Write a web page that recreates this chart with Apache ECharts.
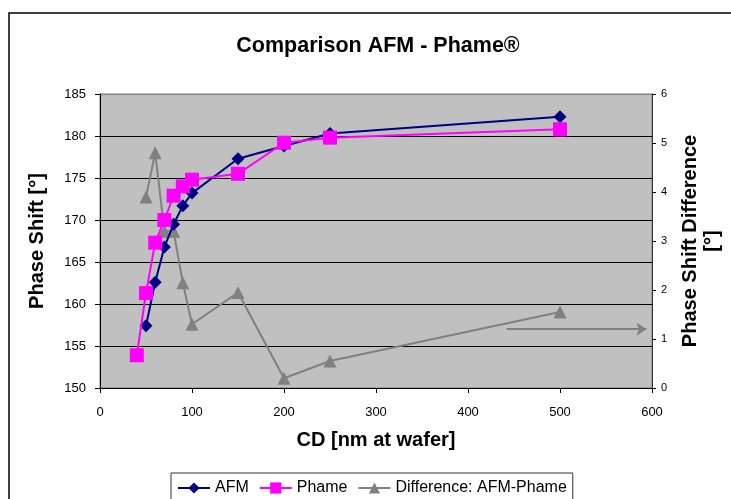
<!DOCTYPE html>
<html>
<head>
<meta charset="utf-8">
<script src="https://cdn.jsdelivr.net/npm/echarts@6/dist/echarts.min.js"></script>
<style>
  html, body { margin: 0; padding: 0; background: #fff; }
  #chart { width: 731px; height: 499px; }
</style>
</head>
<body>
<div id="chart"></div>
<script>
// values
const cdAfm = [50, 60, 70, 80, 90, 100, 150, 200, 250, 500];
const afm = [157.4, 162.6, 166.8, 169.5, 171.7, 173.2, 177.3, 178.8, 180.3, 182.3];

const cdPhame = [40, 50, 60, 70, 80, 90, 100, 150, 200, 250, 500];
const phame = [153.9, 161.3, 167.3, 170.0, 172.9, 174.0, 174.8, 175.5, 179.2, 179.8, 180.8];

const cdDiff = [50, 60, 70, 80, 90, 100, 150, 200, 250, 500];
const diff = [3.9, 4.8, 3.2, 3.2, 2.15, 1.3, 1.95, 0.2, 0.55, 1.55];

// arrow pointing at the right axis
const arrowFrom = [442, 1.2];
const arrowTo = [594, 1.2];

const font = 'Liberation Sans, Arial, sans-serif';

function pairs(xs, ys) {
    return xs.map((x, i) => [x, ys[i]]);
}

const chart = echarts.init(document.getElementById('chart'));

const option = {
    animation: false,
    backgroundColor: '#fff',
    textStyle: { fontFamily: font },
    title: {
        text: 'Comparison AFM - Phame®',
        left: 373,
        top: 30,
        textAlign: 'center',
        textStyle: { fontSize: 21.5, fontWeight: 'bold', color: '#000', fontFamily: font }
    },
    graphic: [{
        type: 'rect',
        shape: { x: 9, y: 13, width: 740, height: 500 },
        style: { fill: 'none', stroke: '#000', lineWidth: 1.5 },
        silent: true
    }],
    legend: {
        left: 171,
        top: 473,
        itemWidth: 32,
        itemHeight: 14,
        itemGap: 10,
        padding: [7, 6, 12, 6],
        borderColor: '#333',
        borderWidth: 1,
        textStyle: { fontSize: 16, color: '#000', fontFamily: font },
        data: ['AFM', 'Phame', 'Difference: AFM-Phame']
    },
    grid: {
        left: 100,
        right: 79,
        top: 94,
        bottom: 111,
        show: true,
        backgroundColor: '#c0c0c0',
        borderColor: '#808080',
        borderWidth: 1
    },
    xAxis: {
        type: 'value',
        min: 0,
        max: 600,
        interval: 100,
        name: 'CD [nm at wafer]',
        nameLocation: 'middle',
        nameGap: 42,
        nameTextStyle: { fontSize: 20, fontWeight: 'bold', color: '#000', fontFamily: font },
        axisLine: { show: true, lineStyle: { color: '#000', width: 1 } },
        axisTick: { show: true, length: 5, lineStyle: { color: '#000' } },
        axisLabel: { fontSize: 13, color: '#000', margin: 18, fontFamily: font },
        splitLine: { show: false }
    },
    yAxis: [{
        type: 'value',
        min: 150,
        max: 185,
        interval: 5,
        name: 'Phase Shift [°]',
        nameLocation: 'middle',
        nameGap: 53,
        nameTextStyle: { fontSize: 20, fontWeight: 'bold', color: '#000', fontFamily: font },
        axisLine: { show: true, lineStyle: { color: '#000', width: 1 } },
        axisTick: { show: true, length: 5, lineStyle: { color: '#000' } },
        axisLabel: { fontSize: 13, color: '#000', margin: 14, fontFamily: font },
        splitLine: {
            show: true,
            lineStyle: { color: ['#000', '#000', '#000', '#000', '#000', '#000', '#000', '#808080'], width: 1 }
        }
    }, {
        type: 'value',
        position: 'right',
        min: 0,
        max: 6,
        interval: 1,
        name: 'Phase Shift Difference\n[°]',
        nameLocation: 'middle',
        nameRotate: 90,
        nameGap: 27,
        nameTextStyle: { fontSize: 20, fontWeight: 'bold', color: '#000', lineHeight: 22, fontFamily: font, verticalAlign: 'top' },
        axisLine: { show: true, lineStyle: { color: '#333', width: 1 } },
        axisTick: { show: true, length: 4, lineStyle: { color: '#000' } },
        axisLabel: { fontSize: 11, color: '#000', margin: 9, fontFamily: font },
        splitLine: { show: false }
    }],
    series: [{
        name: 'AFM',
        type: 'line',
        data: pairs(cdAfm, afm),
        symbol: 'diamond',
        symbolSize: 13,
        itemStyle: { color: '#000080' },
        lineStyle: { color: '#000080', width: 2 },
        z: 4
    }, {
        name: 'Phame',
        type: 'line',
        data: pairs(cdPhame, phame),
        symbol: 'rect',
        symbolSize: 14,
        itemStyle: { color: '#ff00ff' },
        lineStyle: { color: '#ff00ff', width: 2 },
        z: 5
    }, {
        name: 'Difference: AFM-Phame',
        type: 'line',
        yAxisIndex: 1,
        data: pairs(cdDiff, diff),
        symbol: 'triangle',
        symbolSize: 13,
        itemStyle: { color: '#808080' },
        lineStyle: { color: '#808080', width: 2 },
        z: 3,
        markLine: {
            silent: true,
            symbol: ['none', 'arrow'],
            symbolSize: 10,
            label: { show: false },
            lineStyle: { color: '#808080', width: 2, type: 'solid' },
            data: [[{ coord: arrowFrom }, { coord: arrowTo }]]
        }
    }]
};

chart.setOption(option);
</script>
</body>
</html>
